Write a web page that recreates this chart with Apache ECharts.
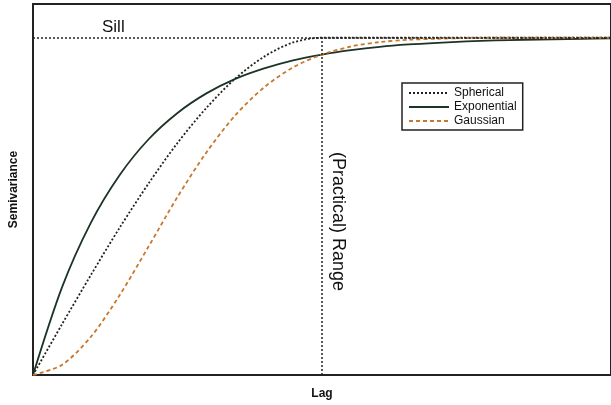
<!DOCTYPE html>
<html>
<head>
<meta charset="utf-8">
<script src="https://cdn.jsdelivr.net/npm/echarts@6/dist/echarts.min.js"></script>
<style>
  html, body { margin: 0; padding: 0; background: #fff; }
  #chart { width: 611px; height: 405px; }
</style>
</head>
<body>
<div id="chart"></div>
<script>
// lag values (range = 1, sill = 1)
const lags = [0, 0.1, 0.2, 0.3, 0.4, 0.5, 0.6, 0.7, 0.8, 0.9, 1.0, 1.1, 1.2, 1.3, 1.4, 1.5, 1.6, 1.7, 1.8, 1.9, 2.0];
const spherical = [0, 0.15, 0.296, 0.437, 0.568, 0.688, 0.792, 0.879, 0.944, 0.986, 1, 1, 1, 1, 1, 1, 1, 1, 1, 1, 1];
const exponential = [0, 0.259, 0.451, 0.593, 0.699, 0.777, 0.835, 0.878, 0.909, 0.933, 0.95, 0.963, 0.973, 0.98, 0.985, 0.989, 0.992, 0.994, 0.995, 0.997, 0.998];
const gaussian = [0, 0.03, 0.113, 0.237, 0.381, 0.528, 0.66, 0.77, 0.853, 0.912, 0.95, 0.974, 0.987, 0.994, 0.997, 0.999, 1, 1, 1, 1, 1];
const sill = 1;
const range = 1;
const lagMax = 2;

const pairs = vals => lags.map((x, i) => [x, vals[i]]);
const font = "'Liberation Sans', Arial, sans-serif";

const chart = echarts.init(document.getElementById('chart'));
chart.setOption({
  animation: false,
  grid: {
    show: true,
    left: 32,
    top: 4,
    right: -6,
    bottom: 27,
    borderColor: '#222',
    borderWidth: 2,
    backgroundColor: '#fff'
  },
  legend: {
    orient: 'vertical',
    left: 402,
    top: 83,
    padding: [4, 6, 3, 6],
    itemGap: 2,
    itemWidth: 40,
    itemHeight: 11,
    borderColor: '#222',
    borderWidth: 1.5,
    borderRadius: 0,
    itemStyle: { opacity: 0 },
    textStyle: { fontFamily: font, fontSize: 12, color: '#111' },
    data: ['Spherical', 'Exponential', 'Gaussian']
  },
  xAxis: {
    type: 'value',
    min: 0,
    max: lagMax,
    name: 'Lag',
    nameLocation: 'middle',
    nameGap: 13,
    nameTextStyle: { fontFamily: font, fontWeight: 'bold', fontSize: 12, color: '#111' },
    axisLine: { show: false },
    axisTick: { show: false },
    axisLabel: { show: false },
    splitLine: { show: false }
  },
  yAxis: {
    type: 'value',
    min: 0,
    max: 1.1,
    name: 'Semivariance',
    nameLocation: 'middle',
    nameRotate: 90,
    nameGap: 13,
    nameTextStyle: { fontFamily: font, fontWeight: 'bold', fontSize: 12, color: '#111' },
    axisLine: { show: false },
    axisTick: { show: false },
    axisLabel: { show: false },
    splitLine: { show: false }
  },
  graphic: [
    {
      type: 'text', left: 102, top: 19,
      style: { text: 'Sill', font: '17px ' + font, fill: '#111' }
    },
    {
      type: 'text', x: 347, y: 152, rotation: -Math.PI / 2,
      style: { text: '(Practical) Range', font: '18px ' + font, fill: '#111' }
    }
  ],
  series: [
    {
      name: 'Spherical',
      type: 'line',
      data: pairs(spherical),
      smooth: 0.3,
      symbol: 'none',
      lineStyle: { color: '#222', width: 1.8, type: [2, 2] },
      itemStyle: { color: '#222' },
      markLine: {
        silent: true,
        symbol: 'none',
        label: { show: false },
        lineStyle: { color: '#222', width: 1.5, type: [2, 2] },
        data: [
          [{ coord: [0, sill] }, { coord: [lagMax, sill] }],
          [{ coord: [range, 0] }, { coord: [range, sill] }]
        ]
      }
    },
    {
      name: 'Exponential',
      type: 'line',
      data: pairs(exponential),
      smooth: 0.3,
      symbol: 'none',
      lineStyle: { color: '#1d3325', width: 1.8 },
      itemStyle: { color: '#1d3325' }
    },
    {
      name: 'Gaussian',
      type: 'line',
      data: pairs(gaussian),
      smooth: 0.3,
      symbol: 'none',
      lineStyle: { color: '#c8782e', width: 1.8, type: [4, 3] },
      itemStyle: { color: '#c8782e' }
    }
  ]
});
</script>
</body>
</html>
